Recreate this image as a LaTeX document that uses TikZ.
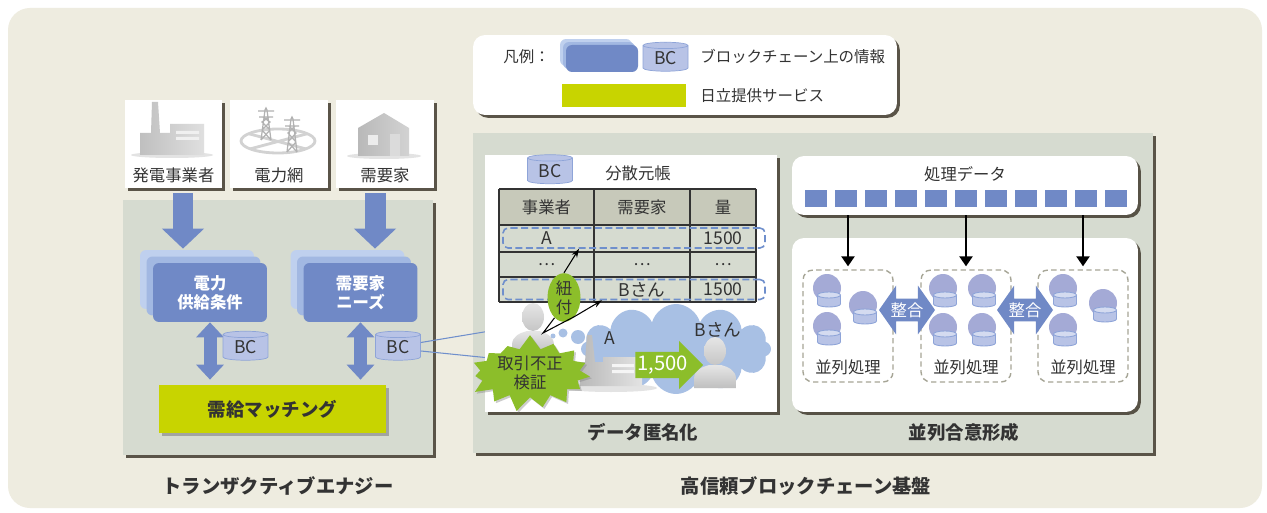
\documentclass[tikz,border=0pt]{standalone}
\usepackage{fontspec}
\setmainfont{Noto Sans CJK JP}
\usetikzlibrary{calc,shadows,shapes.geometric,shapes.symbols,shapes.arrows,arrows.meta}

\definecolor{bgbeige}{HTML}{EEECE0}
\definecolor{panelgray}{HTML}{D6DBD0}
\definecolor{headgray}{HTML}{C7C9BA}
\definecolor{shadowc}{HTML}{4A4438}
\definecolor{bcblue}{HTML}{7089C6}
\definecolor{bcmid}{HTML}{A2B8E2}
\definecolor{bcpale}{HTML}{BFD0EE}
\definecolor{cylfill}{HTML}{B8C3E6}
\definecolor{cylline}{HTML}{8EA4D8}
\definecolor{hitachi}{HTML}{C8D400}
\definecolor{leafgreen}{HTML}{8CBE2A}
\definecolor{cloudblue}{HTML}{A8C0E4}
\definecolor{nodeblue}{HTML}{A4AAD6}
\definecolor{dashgray}{HTML}{A6A596}
\definecolor{textdark}{HTML}{333333}
\definecolor{linkblue}{HTML}{6F8FCC}

\newcommand\lblfont{\fontsize{9.3}{11}\selectfont}
\newcommand\ttlfont{\fontsize{10.5}{12}\selectfont\bfseries}

\begin{document}
\begin{tikzpicture}[x=0.02cm,y=-0.02cm,font=\lblfont,text=textdark,
    box shadow/.style={drop shadow={shadow xshift=1.6pt,shadow yshift=-1.6pt,fill=shadowc,opacity=.9}},
    panel/.style={fill=panelgray,box shadow},
    card/.style={fill=white,box shadow},
    iconbox/.style={card,minimum width=1.95cm,minimum height=1.76cm},
    stacked/.style={rounded corners=0.12cm,fill=bcblue,text=white,font=\lblfont\bfseries,align=center,
      copy shadow={fill=bcpale,draw=none,shadow xshift=-#1,shadow yshift=#1},
      copy shadow={fill=bcmid,draw=none,shadow xshift=-#1/2,shadow yshift=#1/2}},
    cyl/.style={cylinder,shape border rotate=90,aspect=0.28,draw=cylline,fill=cylfill,
      minimum width=0.9cm,minimum height=0.58cm,inner sep=0pt,font=\fontsize{10}{10}\selectfont},
    bigarrow/.style={draw=bcblue,line width=0.42cm,-{Triangle[width=0.82cm,length=0.4cm]}},
    dblarrow/.style={draw=bcblue,line width=0.26cm,{Triangle[width=0.54cm,length=0.3cm]}-{Triangle[width=0.54cm,length=0.3cm]}},
    greenbox/.style={fill=hitachi,drop shadow={shadow xshift=1.5pt,shadow yshift=-1.5pt,fill=gray,opacity=.6}},
    ttl/.style={font=\ttlfont},
    bigttl/.style={font=\fontsize{11}{13}\selectfont\bfseries},
    legendtext/.style={anchor=west,inner sep=0pt,font=\fontsize{8.8}{10}\selectfont},
    tablerule/.style={draw=textdark,line width=0.9pt},
    rowmark/.style={draw=linkblue,dashed,dash pattern=on 4pt off 2pt,rounded corners=0.1cm,line width=.9pt,
      minimum width=5.24cm,minimum height=0.4cm},
    pointer/.style={line width=0.6pt,-{Stealth[length=5pt,width=3.5pt]}},
    group/.style={draw=dashgray,dash pattern=on 3pt off 2pt,rounded corners=0.2cm,line width=.8pt,
      minimum width=1.8cm,minimum height=2.24cm},
    datasq/.style={fill=bcblue,minimum width=0.44cm,minimum height=0.34cm,inner sep=0pt},
    feed/.style={line width=1.1pt,-{Triangle[width=7.5pt,length=5.7pt]},shorten >=0.06cm},
    sync arrow/.style={double arrow,fill=bcblue,text=white,double arrow head extend=0.26cm,
      minimum height=1.12cm,inner xsep=0pt,inner ysep=2pt,double arrow tip angle=110},
    person/.pic={
      \shade[top color=gray!20,bottom color=gray!50] (-21,37) -- (-21,28) .. controls (-21,19) and (-13,16) .. (-6,14)
        -- (6,14) .. controls (13,16) and (21,19) .. (21,28) -- (21,37) -- cycle;
      \shade[top color=gray!20,bottom color=gray!45] (0,0) ellipse (11 and 14);},
    bcnode/.pic={
      \fill[nodeblue] (0,0) circle (14);
      \filldraw[fill=cylfill,draw=cylline,line width=0.5pt] (2,16) ellipse (11.5 and 3);
      \fill[cylfill] (-9.5,7) rectangle (13.5,16);
      \draw[cylline,line width=0.5pt] (-9.5,7) -- (-9.5,16) (13.5,7) -- (13.5,16);
      \filldraw[fill=cylfill!60!white,draw=cylline,line width=0.5pt] (2,7) ellipse (11.5 and 3);}]

\useasboundingbox (0,0) rectangle (1267,513);
\fill[white] (0,0) rectangle (1267,513);
\fill[bgbeige,rounded corners=0.44cm] (8,8) rectangle (1262,508);

\node[panel,minimum width=6.2cm,minimum height=5.1cm] (energy panel) at (278,327.5) {};
\node[panel,minimum width=13.6cm,minimum height=6.4cm] (chain panel) at (813,293) {};

\node[card,rounded corners=0.24cm,minimum width=8.48cm,minimum height=1.6cm] (legend) at (685,75) {};
\node[legendtext] (legend title) at (503,57) {凡例：};
\node[stacked=0.12cm,minimum width=1.44cm,minimum height=0.54cm] (legend bc) at (602,58.5) {};
\node[cyl] (legend cyl) at (665.5,58.5) {BC};
\node[legendtext] (legend bc text) at (700,57) {ブロックチェーン上の情報};
\node[fill=hitachi,minimum width=2.48cm,minimum height=0.46cm] (legend green) at (624,95.5) {};
\node[legendtext] (legend green text) at (700,96) {日立提供サービス};

\node[iconbox] (gen) at (173.5,144) {};
\node[iconbox] (grid) at (279,144) {};
\node[iconbox] (home) at (385,144) {};
\node (gen label) at ($(gen.south)+(0,-13)$) {発電事業者};
\node (grid label) at ($(grid.south)+(0,-13)$) {電力網};
\node (home label) at ($(home.south)+(0,-13)$) {需要家};

\fill[gray!22] (172,155) ellipse (41 and 3);
\shade[left color=gray!50,right color=gray!25] (140,155) -- (140,133) -- (151,133) -- (152,102) -- (158,102)
  -- (160,133) -- (170,133) -- (170,124) -- (204,124) -- (204,155) -- cycle;
\fill[gray!12] (176,131) rectangle (199,134) (176,137) rectangle (199,140);

\begin{scope}
  \clip (278,141) ellipse (37 and 12);
  \draw[gray!35,line width=1.6pt] (246,133) -- (310,150) (246,150) -- (310,133);
\end{scope}
\draw[gray!35,line width=1.6pt] (278,141) ellipse (37 and 12);
\draw[gray!60,line width=0.7pt] (261,140) -- (265,110) -- (266,108) -- (267,110) -- (271,140)
  (258,111) -- (274,111) (259,117) -- (273,117)
  (262,130) -- (270,122) -- (263,117) (270,130) -- (262,122) -- (269,117) (261,140) -- (270,130) (271,140) -- (262,130);
\draw[gray!60,line width=0.7pt] (287,152) -- (291,119) -- (292,117) -- (293,119) -- (297,152)
  (284,120) -- (300,120) (285,126) -- (299,126)
  (288,142) -- (296,133) -- (289,126) (296,142) -- (288,133) -- (295,126) (287,152) -- (296,142) (297,152) -- (288,142);

\fill[gray!22] (384,156) ellipse (37 and 3);
\shade[left color=gray!55,right color=gray!35] (358,156) -- (358,128) -- (384,113) -- (409,128) -- (409,156) -- cycle;
\fill[gray!15] (368,135) rectangle (378,145);
\fill[gray!28] (390,134) rectangle (400,156);

\node[stacked=0.26cm,minimum width=2.28cm,minimum height=1.18cm] (supply) at (210,292.5) {電力\\供給条件};
\node[stacked=0.26cm,minimum width=2.28cm,minimum height=1.18cm] (needs) at (360.5,292.5) {需要家\\ニーズ};
\node[greenbox,minimum width=4.54cm,minimum height=0.96cm,font=\ttlfont] (match) at (272.5,409) {需給マッチング};

\draw[bigarrow,shorten >=0.28cm] ([xshift=0.19cm,yshift=-0.1cm]gen.south) -- ([xshift=0.19cm]gen.south |- supply.north);
\draw[bigarrow,shorten >=0.28cm] ([xshift=-0.2cm,yshift=-0.1cm]home.south) -- ([xshift=-0.2cm]home.south |- needs.north);
\draw[dblarrow,shorten >=0.1cm] (supply.south) -- (supply.south |- match.north);
\draw[dblarrow,shorten >=0.1cm] (needs.south) -- (needs.south |- match.north);

\node[cyl] (bc left) at (245.5,347.5) {BC};
\node[cyl] (bc right) at (398,347.5) {BC};

\coordinate (link top) at (490,331);
\coordinate (link bottom) at (490,358);
\draw[linkblue,line width=0.6pt] ([yshift=0.1cm]bc right.east) -- (link top);
\draw[linkblue,line width=0.6pt] ([yshift=-0.07cm]bc right.east) -- (link bottom);

\node[bigttl] (energy title) at (278,486) {トランザクティブエナジー};
\node[bigttl] (chain title) at (806,486) {高信頼ブロックチェーン基盤};

\node[card,minimum width=5.84cm,minimum height=5.14cm] (anon) at (631,283.5) {};
\node[cyl] (ledger cyl) at (550,171) {BC};
\node (ledger title) at (638,173) {分散元帳};

\fill[headgray] (499,189) rectangle (756,225);
\fill[panelgray] (499,225) rectangle (756,302);
\foreach \y in {189,225,252,277,302}
  \draw[tablerule] (499,\y) -- (756,\y);
\foreach \x in {499,594,690,756}
  \draw[tablerule] (\x,189) -- (\x,302);
\node (head seller) at (546.5,207) {事業者};
\node (head buyer) at (642,207) {需要家};
\node (head amount) at (723,207) {量};
\node[font=\fontsize{10}{12}\selectfont] (seller a) at (546.5,238.5) {A};
\node[font=\fontsize{10}{12}\selectfont] (amount a) at (723,238.5) {1500};
\node (skip seller) at (546.5,264.5) {…};
\node (skip buyer) at (642,264.5) {…};
\node (skip amount) at (723,264.5) {…};
\node[font=\fontsize{10}{12}\selectfont] (buyer b) at (642,289.5) {Bさん};
\node[font=\fontsize{10}{12}\selectfont] (amount b) at (723,289.5) {1500};
\node[rowmark] (mark a) at (634,238) {};
\node[rowmark] (mark b) at (634,289.5) {};

\node[cloud,cloud puffs=12,cloud ignores aspect,fill=cloudblue,minimum width=3.8cm,minimum height=1.8cm] (cloud) at (676,349) {};
\fill[cloudblue] (553,336) circle (2.5) (563,333) circle (4.5) (578,337) circle (7);

\pic at (533,317) {person};
\pic at (715,351) {person};
\node[font=\fontsize{10}{12}\selectfont] (party a) at (610,338) {A};
\node[font=\fontsize{10}{12}\selectfont] (party b) at (718,330) {Bさん};

\fill[gray!22] (611,388) ellipse (46 and 4);
\shade[left color=gray!55,right color=gray!22] (580,386) -- (580,362) -- (585,362) -- (587,335) -- (592,335)
  -- (595,362) -- (603,362) -- (603,357) -- (642,357) -- (642,386) -- cycle;
\fill[gray!8] (612,364) rectangle (634,367) (612,370) rectangle (634,373);

\node[single arrow,fill=leafgreen,text=white,font=\fontsize{11.5}{13}\selectfont,anchor=tail,
  minimum height=1.28cm,single arrow head extend=0.22cm,inner xsep=1pt,inner ysep=2pt] (transfer) at (635,365) {1,500};

\node[starburst,starburst points=15,starburst point height=0.3cm,random starburst=7,fill=leafgreen,
  minimum width=2.6cm,minimum height=1.1cm,inner sep=0pt,align=center,
  drop shadow={shadow xshift=1pt,shadow yshift=-1pt,fill=gray,opacity=.4}] (check) at (530,373) {取引不正\\検証};

\node[ellipse,fill=leafgreen,minimum width=0.66cm,minimum height=0.9cm,inner sep=0pt,align=center] (tie) at (564,297.5) {紐\\付};
\coordinate (callout tip) at (543,333);
\draw[line width=0.6pt] (tie.245) -- (callout tip) -- (tie.300);
\draw[pointer] (tie.north) -- ([xshift=-1.1cm]mark a.south);
\draw[pointer] (tie.300) -- ([xshift=-0.64cm]mark b.south);

\node[ttl] (anon title) at (643,432) {データ匿名化};

\node[card,rounded corners=0.24cm,minimum width=6.92cm,minimum height=1.18cm] (queue) at (965,185.5) {};
\node (queue title) at (965,174) {処理データ};
\foreach \i in {0,...,10}
  \node[datasq] (sq\i) at ({816+30*\i},198.5) {};

\node[card,rounded corners=0.24cm,minimum width=6.92cm,minimum height=3.48cm] (consensus) at (965,325) {};
\node[group] (grp1) at (848,326) {};
\node[group] (grp2) at (966,326) {};
\node[group] (grp3) at (1083,326) {};
\node (grp1 label) at (848,367) {並列処理};
\node (grp2 label) at (966,367) {並列処理};
\node (grp3 label) at (1083,367) {並列処理};

\draw[feed] (queue.south -| grp1.north) -- (grp1.north);
\draw[feed] (queue.south -| grp2.north) -- (grp2.north);
\draw[feed] (queue.south -| grp3.north) -- (grp3.north);

\foreach \p in {(827,288),(863,305),(827,326),(943,288),(982,288),(943,327),(982,327),(1063,288),(1103,303),(1063,327)}
  \pic at \p {bcnode};

\node[sync arrow] (sync12) at (907,310) {整合};
\node[sync arrow] (sync23) at (1025,310) {整合};

\node[ttl] (consensus title) at (964,432) {並列合意形成};

\end{tikzpicture}
\end{document}
